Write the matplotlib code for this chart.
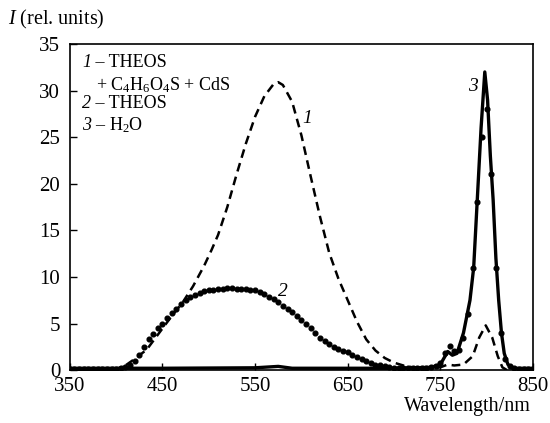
import numpy as np
import matplotlib.pyplot as plt

plt.rcParams['font.family'] = ['Liberation Serif', 'DejaVu Serif']
plt.rcParams['mathtext.fontset'] = 'custom'
plt.rcParams['mathtext.rm'] = 'Liberation Serif'
plt.rcParams['mathtext.it'] = 'Liberation Serif:italic'

# curve 1 : THEOS + C4H6O4S + CdS (dashed)
wl1 = [350, 390, 400, 410, 420, 433, 445, 460, 472, 483, 495, 503, 510, 520, 530, 540,
       550, 560, 570, 575, 580, 590, 600, 610, 620, 630, 640, 650, 660, 670, 680, 690,
       700, 710, 720, 740, 750, 758, 765, 775, 785, 792, 799, 806, 812, 817, 822, 850]
i1 = [0.0, 0.0, 0.1, 0.5, 1.2, 2.2, 3.8, 5.8, 7.3, 9.0, 11.2, 12.9, 14.5, 17.5, 21.0, 24.3,
      27.2, 29.4, 30.7, 30.9, 30.6, 28.8, 25.2, 20.8, 16.5, 12.6, 9.8, 7.5, 5.2, 3.3, 2.1, 1.3,
      0.8, 0.5, 0.3, 0.2, 0.3, 0.6, 0.5, 0.6, 1.5, 3.5, 4.8, 3.5, 1.5, 0.3, 0.0, 0.0]

# curve 2 : THEOS (dots), every 5 nm from 350 nm
wl2 = list(range(350, 855, 5))
i2 = [0.1, 0.1, 0.1, 0.1, 0.1, 0.1, 0.1, 0.1, 0.1, 0.1,
      0.1, 0.2, 0.3, 0.6, 1.0, 1.6, 2.5, 3.3, 3.9, 4.5,
      5.0, 5.6, 6.1, 6.6, 7.1, 7.5, 7.9, 8.1, 8.3, 8.5,
      8.6, 8.6, 8.7, 8.7, 8.8, 8.8, 8.7, 8.7, 8.7, 8.6,
      8.6, 8.4, 8.2, 7.9, 7.6, 7.3, 6.9, 6.6, 6.2, 5.8,
      5.4, 4.9, 4.5, 4.0, 3.5, 3.1, 2.8, 2.5, 2.3, 2.1,
      1.9, 1.6, 1.4, 1.2, 1.0, 0.8, 0.6, 0.5, 0.4, 0.3,
      0.25, 0.2, 0.2, 0.2, 0.2, 0.2, 0.2, 0.2, 0.3, 0.4,
      0.8, 1.8, 2.6, 2.0, 2.2, 3.5, 6.0, 11.0, 18.0, 25.0,
      28.0, 21.0, 11.0, 4.0, 1.2, 0.4, 0.2, 0.1, 0.1, 0.1,
      0.1]

# curve 3 : H2O (solid)
wl3 = [350, 400, 450, 550, 575, 590, 650, 700, 740, 750, 758, 763, 768, 775, 782, 786,
       790, 794, 798, 801, 804, 807, 810, 813, 816, 819, 823, 828, 850]
i3 = [0.2, 0.2, 0.2, 0.25, 0.4, 0.2, 0.2, 0.2, 0.3, 0.6, 2.0, 1.6, 1.8, 4.0, 7.5, 11.0,
      18.5, 26.0, 32.0, 29.0, 23.0, 18.3, 12.0, 7.5, 4.0, 1.8, 0.6, 0.2, 0.2]

xticks = [350, 450, 550, 650, 750, 850]
yticks = [0, 5, 10, 15, 20, 25, 30, 35]

fig = plt.figure(figsize=(5.5, 4.23), dpi=100)
ax = fig.add_axes([0.127, 0.125, 0.842, 0.771])

ax.plot(wl3, i3, color='black', lw=2.4, solid_joinstyle='round')
ax.plot(wl2, i2, color='black', lw=0.6, ls='none', marker='o', ms=3.4)
ax.plot(wl1, i1, color='black', lw=1.8, ls=(0, (3.5, 2.2)))

ax.set_xlim(350, 850)
ax.set_ylim(0, 35)
ax.set_xticks(xticks)
ax.set_yticks(yticks)
ax.tick_params(direction='in', length=5, width=1, labelsize=15)
ax.tick_params(axis='x', pad=5)
ax.tick_params(axis='y', pad=7)
for s in ax.spines.values():
    s.set_linewidth(1.2)

# axis titles
fig.text(0.015, 0.955, '$I$ (rel. units)', fontsize=14.5, va='center', ha='left')
fig.text(0.965, 0.04, 'Wavelength/nm', fontsize=14.5, va='center', ha='right')

# curve numbers
ax.text(606, 27.0, '1', fontstyle='italic', fontsize=14, ha='center', va='center')
ax.text(580, 8.4, '2', fontstyle='italic', fontsize=14, ha='center', va='center')
ax.text(785, 30.4, '3', fontstyle='italic', fontsize=14, ha='center', va='center')

# legend text
fs = 13
rows = [(33.0, '1', ' – THEOS'), (28.6, '2', ' – THEOS'), (26.3, '3', ' – H$_2$O')]
for y, num, txt in rows:
    t = ax.text(363, y, num, fontstyle='italic', fontsize=fs, va='center')
    ax.annotate(txt, xy=(1, 0.5), xycoords=t, fontsize=fs, va='center', ha='left')
ax.text(378, 30.6, '+ C$_4$H$_6$O$_4$S + CdS', fontsize=fs, va='center')

fig.savefig('out.png', dpi=100)
